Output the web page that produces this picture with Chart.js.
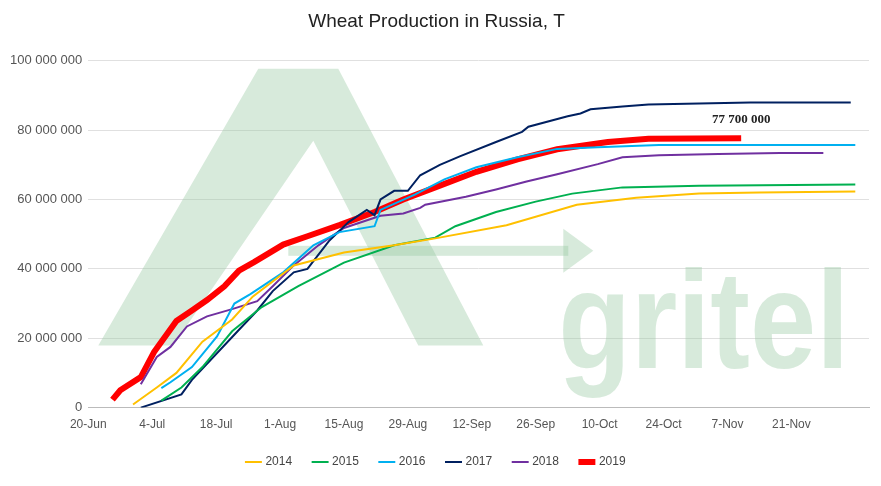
<!DOCTYPE html>
<html>
<head>
<meta charset="utf-8">
<script src="https://cdn.jsdelivr.net/npm/chart.js@4.4.1/dist/chart.umd.min.js"></script>
<style>
  html, body { margin: 0; padding: 0; background: #fff; }
  #wrap { width: 881px; height: 486px; }
</style>
</head>
<body>
<div id="wrap"><canvas id="chart"></canvas></div>
<script>
// x = days since 20-Jun, y = tonnes (millions)
const TICK_LABELS = ["20-Jun", "4-Jul", "18-Jul", "1-Aug", "15-Aug", "29-Aug", "12-Sep", "26-Sep", "10-Oct", "24-Oct", "7-Nov", "21-Nov"];

const days2014 = [9.8, 15, 19.3, 25, 31.5, 36, 45, 56, 67, 76, 91.6, 107, 120, 133.8, 147, 168];
const vals2014 = [0.9, 5.8, 10, 19, 25.4, 32, 41, 44.7, 46.8, 48.8, 52.6, 58.5, 60.5, 61.7, 62, 62.3];

const days2015 = [16, 20.4, 25, 31.5, 38, 46, 56, 67, 76, 80.4, 89.3, 98, 106, 117, 133.8, 168];
const vals2015 = [2, 5.8, 11.7, 22, 29, 35, 41.8, 46.8, 49, 52.3, 56.4, 59.4, 61.7, 63.5, 64, 64.3];

const days2016 = [16, 18, 22.7, 28.2, 32, 35.5, 42.7, 49.3, 55, 62.7, 64, 71.5, 78, 85, 94, 102.7, 111.6, 125, 168];
const vals2016 = [5.6, 7.3, 11.7, 20.5, 30, 32.7, 39, 46.8, 50.6, 52.3, 57, 61.4, 65.8, 69.3, 72.2, 74.6, 75.1, 75.7, 75.7];

const days2017 = [11.5, 20.4, 22.7, 32.7, 37, 40.4, 45, 48, 52.7, 57, 61, 62.7, 64, 67, 70, 72.7, 77, 81.5, 89.3, 95, 96.4, 105, 107.8, 110, 117, 122.7, 133.8, 145, 167];
const vals2017 = [0, 3.8, 8, 22, 28, 33.6, 39, 40, 48, 53.5, 57, 55.5, 60, 62.5, 62.5, 67, 70, 72.5, 76.6, 79.5, 81, 84, 84.8, 86, 86.8, 87.4, 87.7, 88, 88];

const days2018 = [11.5, 15, 18, 21.6, 26, 31.5, 37, 40.4, 45, 50.4, 56, 64, 69, 72.7, 73.8, 82.7, 89.3, 96, 102.7, 111.6, 117, 125, 138, 151.5, 161];
const vals2018 = [6.7, 14.6, 17.5, 23.4, 26.3, 28.4, 30.7, 35, 41, 46.8, 51.8, 55.3, 56, 57.6, 58.5, 60.8, 62.9, 65.2, 67.3, 70.2, 72.2, 72.8, 73.1, 73.4, 73.4];

const days2019 = [5.3, 7, 11.5, 14.4, 19.3, 22.7, 26, 29.8, 33, 36.4, 42.7, 48, 55, 62.7, 69, 76, 85, 94, 102.7, 113.8, 122.7, 143];
const vals2019 = [2.3, 5, 8.8, 16, 25, 28, 31, 35, 39.5, 42, 47, 49.4, 52.6, 56.4, 60, 63.5, 68, 71.6, 74.5, 76.6, 77.5, 77.7];

const SERIES = [
  { label: "2014", days: days2014, vals: vals2014, color: "#ffc000", width: 2 },
  { label: "2015", days: days2015, vals: vals2015, color: "#00b050", width: 2 },
  { label: "2016", days: days2016, vals: vals2016, color: "#00b0f0", width: 2 },
  { label: "2017", days: days2017, vals: vals2017, color: "#002060", width: 2 },
  { label: "2018", days: days2018, vals: vals2018, color: "#7030a0", width: 2 },
  { label: "2019", days: days2019, vals: vals2019, color: "#ff0000", width: 6 }
];

const FONT = "'Liberation Sans', sans-serif";
const fmt = (v) => String(Math.round(v)).replace(/\B(?=(\d{3})+(?!\d))/g, " ");

const watermark = {
  id: "watermark",
  beforeDatasetsDraw(chart){
    const { ctx, chartArea: a } = chart;
    ctx.save();
    ctx.fillStyle = "rgba(150,200,160,0.38)";
    // big "A"
    ctx.beginPath();
    ctx.moveTo(a.left + 10, a.bottom - 62);
    ctx.lineTo(a.left + 170, a.top + 8);
    ctx.lineTo(a.left + 250, a.top + 8);
    ctx.lineTo(a.left + 395, a.bottom - 62);
    ctx.lineTo(a.left + 330, a.bottom - 62);
    ctx.lineTo(a.left + 225, a.top + 80);
    ctx.lineTo(a.left + 85, a.bottom - 62);
    ctx.closePath();
    ctx.fill();
    // arrow
    ctx.fillRect(a.left + 200, a.top + 185, 280, 10);
    ctx.beginPath();
    ctx.moveTo(a.left + 475, a.top + 168);
    ctx.lineTo(a.left + 505, a.top + 190);
    ctx.lineTo(a.left + 475, a.top + 212);
    ctx.closePath();
    ctx.fill();
    ctx.font = "bold 140px " + FONT;
    ctx.textBaseline = "alphabetic";
    ctx.translate(a.left + 470, a.bottom - 40);
    ctx.scale(0.85, 1);
    ctx.fillText("gritel", 0, 0);
    ctx.restore();
  }
};

const label2019 = {
  id: "label2019",
  afterDatasetsDraw(chart){
    const { ctx, scales } = chart;
    const i = days2019.length - 1;
    ctx.save();
    ctx.font = "bold 13px 'Liberation Serif'";
    ctx.fillStyle = "#222";
    ctx.textAlign = "center";
    ctx.fillText(fmt(vals2019[i] * 1e6), scales.x.getPixelForValue(days2019[i]), scales.y.getPixelForValue(vals2019[i] * 1e6) - 18);
    ctx.restore();
  }
};

new Chart(document.getElementById("chart"), {
  type: "line",
  data: {
    datasets: SERIES.map((s) => ({
      label: s.label,
      data: s.days.map((d, i) => ({ x: d, y: s.vals[i] * 1e6 })),
      borderColor: s.color,
      backgroundColor: s.color,
      borderWidth: s.width,
      pointRadius: 0,
      tension: 0
    }))
  },
  options: {
    responsive: true,
    maintainAspectRatio: false,
    animation: false,
    layout: { padding: { left: 4, right: 12, top: 0, bottom: 8 } },
    plugins: {
      title: {
        display: true,
        text: "Wheat Production in Russia, T",
        color: "#222",
        font: { family: FONT, size: 19, weight: "normal" },
        padding: { top: 10, bottom: 28 }
      },
      legend: {
        position: "bottom",
        labels: {
          color: "#444",
          font: { family: FONT, size: 12 },
          usePointStyle: true,
          pointStyle: "line",
          boxWidth: 30,
          padding: 22
        }
      },
      tooltip: { enabled: false }
    },
    scales: {
      x: {
        type: "linear",
        min: 0,
        max: 171,
        afterBuildTicks: (axis) => { axis.ticks = TICK_LABELS.map((_, i) => ({ value: i * 14 })); },
        ticks: {
          color: "#555",
          font: { family: FONT, size: 12 },
          callback: (v) => TICK_LABELS[Math.round(v / 14)],
          maxRotation: 0,
          padding: 2
        },
        grid: { display: false, drawTicks: true },
        border: { color: "#bbb" }
      },
      y: {
        min: 0,
        max: 100e6,
        ticks: {
          stepSize: 20e6,
          color: "#555",
          font: { family: FONT, size: 13 },
          callback: (v) => fmt(v),
          padding: 6
        },
        grid: { color: "#e0e0e0", drawTicks: false },
        border: { display: false }
      }
    }
  },
  plugins: [watermark, label2019]
});
</script>
</body>
</html>
